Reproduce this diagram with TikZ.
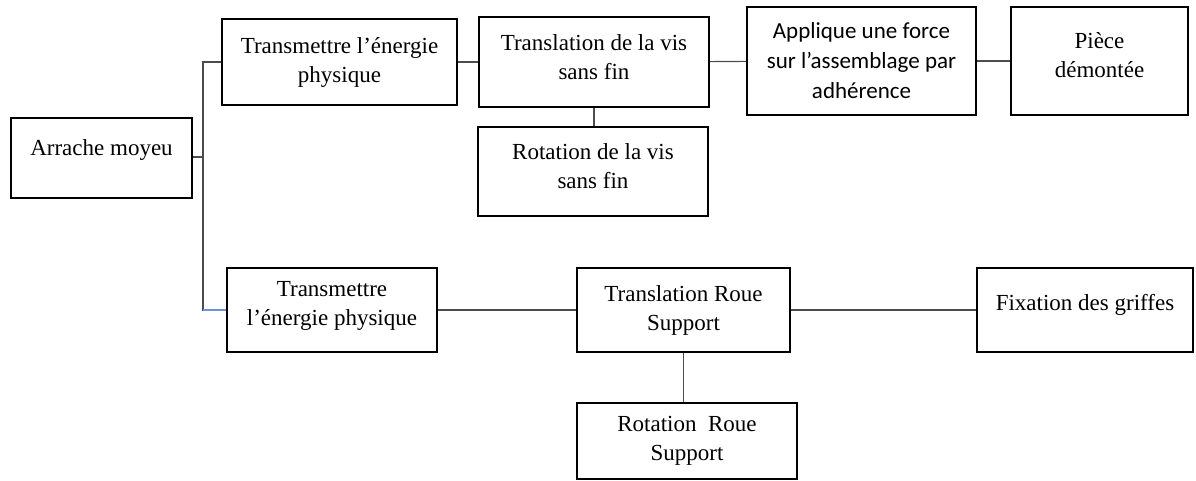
\documentclass[tikz,border=0pt]{standalone}
\usepackage{fontspec}
\setmainfont{Liberation Serif}
\newfontfamily\calibri{Carlito}
\usepackage{tikz}
\usetikzlibrary{positioning}
\definecolor{linkblue}{RGB}{110,145,215}

\begin{document}
\begin{tikzpicture}[x=0.5pt,y=-0.5pt,
  fbox/.style={draw,line width=1pt,align=center,inner sep=2pt,
    font=\fontsize{11.5}{14.5}\selectfont},
  link/.style={draw=black!70,line width=0.55pt}]
\useasboundingbox (0,0) rectangle (1196,481);
% root
\node[fbox,minimum width=90.5pt,minimum height=40pt,text depth=10.5pt] (arr) at (101.5,158) {Arrache moyeu};
% upper branch
\node[fbox,minimum width=117.5pt,minimum height=43pt] (ttop) at (339.5,62) {Transmettre l’énergie\\physique};
\node[fbox,minimum width=115pt,minimum height=45pt,text depth=4.5pt] (tvis) at (594,62) {Translation de la vis\\sans fin};
\node[fbox,minimum width=115pt,minimum height=44.5pt,text depth=5.5pt] (rvis) at (593,171.5) {Rotation de la vis\\sans fin};
\node[fbox,minimum width=114.5pt,minimum height=54pt,font=\calibri\fontsize{11.5}{15}\selectfont] (appl) at (861.5,61) {Applique une force\\sur l’assemblage par\\adhérence};
\node[fbox,minimum width=88.5pt,minimum height=54pt,text depth=6pt] (piece) at (1099.5,61) {Pièce\\démontée};
% lower branch
\node[fbox,minimum width=105pt,minimum height=41.5pt,text depth=6.5pt] (tbot) at (332,310) {Transmettre\\l’énergie physique};
\node[fbox,minimum width=106.5pt,minimum height=42pt] (troue) at (683.5,310) {Translation Roue\\Support};
\node[fbox,minimum width=110pt,minimum height=38pt] (rroue) at (687,441) {Rotation~ Roue\\Support};
\node[fbox,minimum width=108pt,minimum height=42pt,text depth=7.5pt] (fix) at (1085,310) {Fixation des griffes};
\coordinate (fork) at (203,157);
% connectors
\draw[link] (arr.east |- fork) -- (fork);
\draw[link] (ttop.west) -| (fork) |- (tbot.west);
\draw[draw=linkblue,line width=0.55pt] (fork |- tbot.west) -- (tbot.west);
\draw[link] (ttop) -- (tvis);
\draw[link] (tvis) -- (appl);
\draw[link] (appl) -- (piece);
\draw[link] (tvis.south) -- (tvis.south |- rvis.north);
\draw[link] (tbot) -- (troue);
\draw[link] (troue) -- (fix);
\draw[link] (troue.south) -- (troue.south |- rroue.north);
\end{tikzpicture}
\end{document}
